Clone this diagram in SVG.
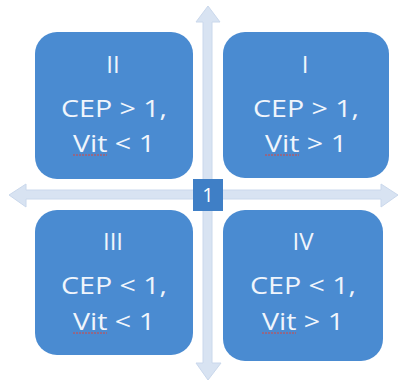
<svg xmlns="http://www.w3.org/2000/svg" width="401" height="383" viewBox="0 0 401 383">
<defs>
<style>
.box{fill:#4a8bd1;}
.t{fill:#f0f5fc;font-family:"Open Sans","Liberation Sans",sans-serif;font-size:24px;text-anchor:middle;}
.ax{fill:#d8e3f2;stroke:#cad8ec;stroke-width:1;}
.sq{fill:#3f7fc6;}
.one{fill:#ffffff;font-family:"Open Sans","Liberation Sans",sans-serif;font-size:20px;text-anchor:middle;}
.sp{fill:none;stroke:#d9473f;stroke-width:1;stroke-dasharray:2 1;}
</style>
</defs>
<rect width="401" height="383" fill="#ffffff"/>
<g id="connectors">
<path class="ax" d="M9 195 L26 184 L26 190 L203 190 L203 199 L26 199 L26 207 Z"/>
<path class="ax" d="M398 195 L381 184 L381 190 L212 190 L212 199 L381 199 L381 207 Z"/>
<path class="ax" d="M208 6 L196 22 L203 22 L203 190 L212 190 L212 22 L220 22 Z"/>
<path class="ax" d="M208 380 L196 363 L203 363 L203 199 L212 199 L212 363 L221 363 Z"/>
</g>
<g id="node-II">
<rect class="box" x="35" y="32" width="158" height="147" rx="22"/>
<text class="t" x="113" y="73">II</text>
<text class="t" x="114" y="117" textLength="106" lengthAdjust="spacingAndGlyphs">CEP &gt; 1,</text>
<text class="t" x="114" y="152" textLength="82" lengthAdjust="spacingAndGlyphs">Vit &lt; 1</text>
<path class="sp" d="M73 155 L107 155"/>
</g>
<g id="node-I">
<rect class="box" x="223" y="32" width="166" height="146" rx="22"/>
<text class="t" x="305" y="73">I</text>
<text class="t" x="306" y="117" textLength="106" lengthAdjust="spacingAndGlyphs">CEP &gt; 1,</text>
<text class="t" x="306" y="152" textLength="82" lengthAdjust="spacingAndGlyphs">Vit &gt; 1</text>
<path class="sp" d="M265 155 L299 155"/>
</g>
<g id="node-III">
<rect class="box" x="35" y="210" width="158" height="145" rx="22"/>
<text class="t" x="113" y="250">III</text>
<text class="t" x="114" y="294" textLength="106" lengthAdjust="spacingAndGlyphs">CEP &lt; 1,</text>
<text class="t" x="114" y="330" textLength="82" lengthAdjust="spacingAndGlyphs">Vit &lt; 1</text>
<path class="sp" d="M73 333 L107 333"/>
</g>
<g id="node-IV">
<rect class="box" x="223" y="210" width="160" height="151" rx="22"/>
<text class="t" x="303" y="250">IV</text>
<text class="t" x="303" y="294" textLength="106" lengthAdjust="spacingAndGlyphs">CEP &lt; 1,</text>
<text class="t" x="303" y="330" textLength="82" lengthAdjust="spacingAndGlyphs">Vit &gt; 1</text>
<path class="sp" d="M262 333 L296 333"/>
</g>
<g id="node-1">
<rect class="sq" x="193" y="179" width="30" height="32"/>
<text class="one" x="208" y="202">1</text>
</g>
</svg>
